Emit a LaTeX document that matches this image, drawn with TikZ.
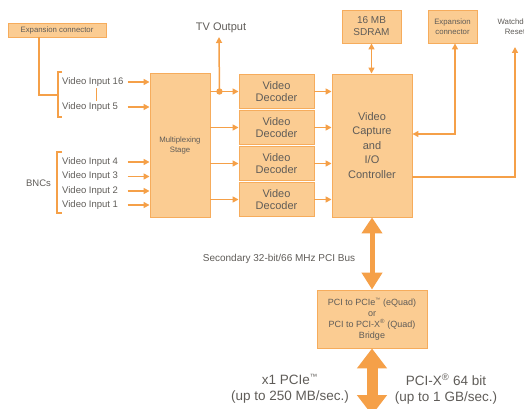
\documentclass[tikz,border=0pt]{standalone}
\usepackage{fontspec}
\setmainfont{Liberation Sans}
\usetikzlibrary{arrows.meta}
\definecolor{boxfill}{RGB}{251,204,146}
\definecolor{boxline}{RGB}{246,172,92}
\definecolor{ln}{RGB}{245,160,72}
\definecolor{txt}{RGB}{95,92,88}
\newcommand{\fs}[2]{\fontsize{#1}{#2}\selectfont}
\newcommand{\tmk}{\textsuperscript{\scalebox{0.8}{™}}}
\begin{document}
\begin{tikzpicture}[x=1pt,y=-1pt,
  box/.style={draw=boxline, fill=boxfill, line width=0.9pt, inner sep=0pt, text=txt, align=center},
  lbl/.style={text=txt, inner sep=0pt, align=center},
  conn/.style={draw=ln, line width=1.5pt},
  arr/.style={conn, -{Triangle[width=6pt,length=6pt]}},
  darr/.style={conn, {Triangle[width=6pt,length=6pt]}-{Triangle[width=6pt,length=6pt]}},
  vin/.style={lbl, anchor=west, font=\fs{9.5}{11}},
]
\useasboundingbox (0,0) rectangle (524,409);
\clip (0,0) rectangle (524,409);

% boxes
\node[box, minimum width=98, minimum height=14, font=\fs{7.8}{9}] (exl) at (57,30) {Expansion connector};
\node[box, minimum width=60, minimum height=144, font=\fs{7.8}{10}] (mux) at (180,145) {Multiplexing\\Stage};
\node[box, minimum width=75, minimum height=34, font=\fs{11}{12.5}] (dec1) at (276.5,91.5) {Video\\Decoder};
\node[box, minimum width=75, minimum height=34, font=\fs{11}{12.5}] (dec2) at (276.5,127.5) {Video\\Decoder};
\node[box, minimum width=75, minimum height=34, font=\fs{11}{12.5}] (dec3) at (276.5,163.5) {Video\\Decoder};
\node[box, minimum width=75, minimum height=34, font=\fs{11}{12.5}] (dec4) at (276.5,199.5) {Video\\Decoder};
\node[box, minimum width=80, minimum height=143, font=\fs{11}{14.5}] (ctl) at (372,145.5) {Video\\Capture\\and\\I/O\\Controller};
\node[box, minimum width=59, minimum height=33, font=\fs{10}{12}] (sdram) at (371.5,26.5) {16 MB\\SDRAM};
\node[box, minimum width=49, minimum height=33, font=\fs{7.8}{10}] (expr) at (452.5,26.5) {Expansion\\connector};
\node[box, minimum width=110, minimum height=58, font=\fs{9}{11}] (bridge) at (372,319) {PCI to PCIe\tmk{} (eQuad)\\or\\PCI to PCI-X\textsuperscript{®} (Quad)\\Bridge};

% labels
\node[vin] (vi16) at (62,82) {Video Input 16};
\node[vin] (vi5) at (62,107) {Video Input 5};
\node[vin] (vi4) at (62,162) {Video Input 4};
\node[vin] (vi3) at (62,176.5) {Video Input 3};
\node[vin] (vi2) at (62,191) {Video Input 2};
\node[vin] (vi1) at (62,205) {Video Input 1};
\node[lbl, font=\fs{9.5}{11}] (bnc) at (38.5,183) {BNCs};
\node[lbl, font=\fs{11}{12}] (tv) at (221,28) {TV Output};
\node[lbl, font=\fs{7.8}{10}] (wd) at (515,27) {Watchdog\\Reset};
\node[lbl, font=\fs{10}{12}] (bus) at (279,259) {Secondary 32-bit/66 MHz PCI Bus};
\node[lbl, font=\fs{13.5}{16}] (pcie) at (290,389) {x1 PCIe\tmk\\(up to 250 MB/sec.)};
\node[lbl, font=\fs{13.5}{16}] (pcix) at (446,389) {PCI-X\textsuperscript{®} 64 bit\\(up to 1 GB/sec.)};

% coordinates
\coordinate (brk1) at (58,95);
\coordinate (tvtip) at (219,37);
\coordinate (wdtip) at (515,47);
\coordinate (bottom) at (372,415);

% brackets
\draw[conn, line width=1.2pt] (62,72) -- (58,72) -- (58,117) -- (62,117);
\draw[conn, line width=1.2pt] ([xshift=-18pt]exl.south) |- (brk1);
\draw[conn, line width=1.2pt] (62,152) -- (57,152) -- (57,213) -- (62,213);
\draw[draw=ln, line width=0.5pt] (96,88) -- (96,101);

% input arrows
\foreach \v in {vi16,vi5,vi4,vi3,vi2,vi1}
  \draw[arr] ([xshift=-22pt]mux.west |- \v) -- (mux.west |- \v);

% mux -> decoders
\foreach \d in {dec1,dec2,dec3,dec4} {
  \draw[arr] (mux.east |- \d) -- (\d.west);
  \draw[arr] (\d.east) -- (\d -| ctl.west);
}
\path (mux.east |- dec1) ++(9,0) coordinate (tvj);
\fill[ln] (tvj) circle (3.2pt);
\draw[arr] (tvj) -- (tvtip);

% SDRAM, expansion, watchdog
\draw[darr] (sdram.south) -- (sdram.south |- ctl.north);
\draw[darr] (expr.south -| 455,0) |- (ctl.east |- 0,134);
\draw[arr] (ctl.east |- 0,177) -| (wdtip);

% big arrows
\draw[draw=ln, line width=5pt, {Triangle[width=20pt,length=16pt]}-{Triangle[width=20pt,length=17pt]}] (ctl.south) -- (bridge.north);
\draw[draw=ln, line width=11pt, {Triangle[width=29pt,length=20pt]}-{Triangle[width=29pt,length=20pt]}] (bridge.south) -- (bottom);
\end{tikzpicture}
\end{document}
